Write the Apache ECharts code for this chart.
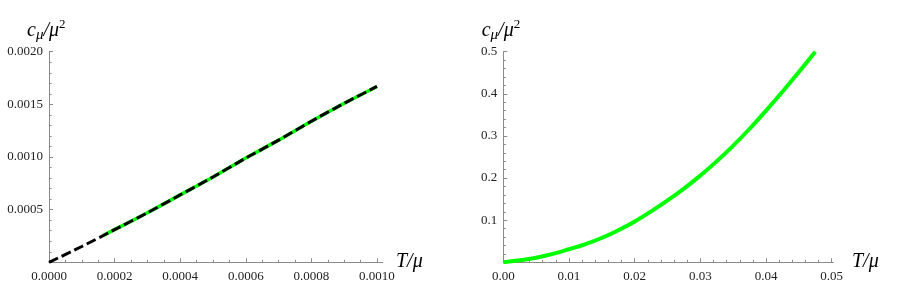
<!DOCTYPE html>
<html><head><meta charset="utf-8">
<script src="https://cdn.jsdelivr.net/npm/echarts@6/dist/echarts.min.js"></script>
<style>html,body{margin:0;padding:0;background:#fff}#c{width:900px;height:295px}</style>
</head><body><div id="c"></div>
<script>
// ---- Left panel data ----
const leftDashT = [0, 0.0001, 0.0002, 0.0003, 0.0004, 0.0005, 0.0006, 0.0007, 0.0008, 0.0009, 0.0010];
const leftDashC = [0, 0.00015, 0.00031, 0.00047, 0.00064, 0.00081, 0.00099, 0.00116, 0.00134, 0.00151, 0.00167];
const leftGreenT = [0.000165, 0.0002, 0.0003, 0.0004, 0.0005, 0.0006, 0.0007, 0.0008, 0.0009, 0.0010];
const leftGreenC = [0.000255, 0.00031, 0.00047, 0.00064, 0.00081, 0.00099, 0.00116, 0.00134, 0.00151, 0.00167];
const leftXTicks = [0, 0.0002, 0.0004, 0.0006, 0.0008, 0.0010];
const leftXMinorTicks = [0.00005, 0.0001, 0.00015, 0.00025, 0.0003, 0.00035, 0.00045, 0.0005, 0.00055,
  0.00065, 0.0007, 0.00075, 0.00085, 0.0009, 0.00095];
const leftYTicks = [0.0005, 0.0010, 0.0015, 0.0020];

// ---- Right panel data ----
const rightT = [0, 0.0025, 0.005, 0.0075, 0.01, 0.0125, 0.015, 0.0175, 0.02, 0.0225, 0.025,
  0.0275, 0.03, 0.0325, 0.035, 0.0375, 0.04, 0.0425, 0.045, 0.0475];
const rightC = [0, 0.005, 0.011, 0.020, 0.031, 0.043, 0.058, 0.076, 0.097, 0.121, 0.147,
  0.175, 0.206, 0.240, 0.277, 0.317, 0.360, 0.405, 0.452, 0.500];
const rightXTicks = [0, 0.01, 0.02, 0.03, 0.04, 0.05];
const rightXMinorTicks = [0.002, 0.004, 0.006, 0.008, 0.012, 0.014, 0.016, 0.018, 0.022, 0.024, 0.026, 0.028,
  0.032, 0.034, 0.036, 0.038, 0.042, 0.044, 0.046, 0.048];
const rightYTicks = [0.1, 0.2, 0.3, 0.4, 0.5];

const zip = (a, b) => a.map((v, i) => [v, b[i]]);
const AX = '#8a8a8a';
const LBL = { fontFamily: 'Liberation Serif', fontSize: 13, color: '#222' };

function xMajor(gridIndex, max, ticks, dec) {
  return {
    type: 'value', gridIndex, min: 0, max, position: 'bottom',
    axisLine: { show: true, onZero: false, lineStyle: { color: AX, width: 1 } },
    axisTick: { show: true, inside: true, length: 4, customValues: ticks, lineStyle: { color: AX } },
    axisLabel: Object.assign({ show: true, margin: 8, customValues: ticks, formatter: v => v.toFixed(dec) }, LBL),
    splitLine: { show: false }
  };
}
function xMinor(gridIndex, max, ticks) {
  return {
    type: 'value', gridIndex, min: 0, max, position: 'bottom',
    axisLine: { show: false, onZero: false },
    axisTick: { show: true, inside: true, length: 2.5, customValues: ticks, lineStyle: { color: AX } },
    axisLabel: { show: false },
    splitLine: { show: false }
  };
}
function yAxis(gridIndex, max, interval, ticks, dec) {
  return {
    type: 'value', gridIndex, min: 0, max, interval,
    axisLine: { show: true, onZero: false, lineStyle: { color: AX, width: 1 } },
    axisTick: { show: true, inside: true, length: 4, lineStyle: { color: AX } },
    minorTick: { show: true, splitNumber: 5, length: 2.5, lineStyle: { color: AX } },
    axisLabel: Object.assign({ show: true, margin: 6, customValues: ticks, formatter: v => v.toFixed(dec) }, LBL),
    splitLine: { show: false }
  };
}

function yName(x) {
  return {
    type: 'text', left: x, top: 18, z: 100,
    style: {
      text: '{i|c}{s|μ}{i|/μ}{p|2}',
      rich: {
        i: { fontFamily: 'Liberation Serif', fontStyle: 'italic', fontSize: 20, lineHeight: 25, verticalAlign: 'middle', fill: '#000' },
        s: { fontFamily: 'Liberation Serif', fontStyle: 'italic', fontSize: 15, verticalAlign: 'bottom', fill: '#000' },
        p: { fontFamily: 'Liberation Serif', fontSize: 13, verticalAlign: 'top', fill: '#000' }
      }
    }
  };
}
function xName(x) {
  return {
    type: 'text', left: x, top: 252, z: 100,
    style: { text: 'T/μ', fontFamily: 'Liberation Serif', fontStyle: 'italic', fontSize: 20, fill: '#000' }
  };
}

const chart = echarts.init(document.getElementById('c'), null, { renderer: 'canvas' });
chart.setOption({
  animation: false,
  backgroundColor: '#fff',
  grid: [
    { left: 49, top: 51.7, width: 333.7, height: 210.6, containLabel: false, outerBoundsMode: 'none' },
    { left: 503.3, top: 51.7, width: 330, height: 210.6, containLabel: false, outerBoundsMode: 'none' }
  ],
  xAxis: [
    xMajor(0, 0.0010174, leftXTicks, 4),
    xMinor(0, 0.0010174, leftXMinorTicks),
    xMajor(1, 0.05024, rightXTicks, 2),
    xMinor(1, 0.05024, rightXMinorTicks)
  ],
  yAxis: [
    yAxis(0, 0.002, 0.0005, leftYTicks, 4),
    yAxis(1, 0.5, 0.1, rightYTicks, 1)
  ],
  series: [
    { type: 'line', xAxisIndex: 0, yAxisIndex: 0, data: zip(leftGreenT, leftGreenC), showSymbol: false, smooth: 0.2,
      lineStyle: { color: '#00ff00', width: 3.5 }, z: 2 },
    { type: 'line', xAxisIndex: 0, yAxisIndex: 0, data: zip(leftDashT, leftDashC), showSymbol: false, smooth: 0.2,
      lineStyle: { color: '#000', width: 3, type: [10, 4] }, z: 3 },
    { type: 'line', xAxisIndex: 2, yAxisIndex: 1, data: zip(rightT, rightC), showSymbol: false, smooth: 0.5,
      lineStyle: { color: '#00ff00', width: 4 }, z: 2 }
  ],
  graphic: [yName(27), yName(481.7), xName(396), xName(852)]
});
</script></body></html>
